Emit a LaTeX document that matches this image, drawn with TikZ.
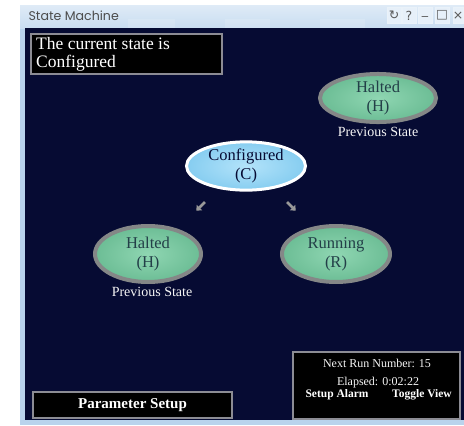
\documentclass[tikz,border=0pt]{standalone}
\usepackage{fontspec}
\setmainfont{Liberation Serif}
\newfontfamily\titlefont{Poppins}
\newfontfamily\symfont{DejaVu Sans}
\usetikzlibrary{shapes.geometric,arrows.meta}
\definecolor{navy}{HTML}{060B33}
\definecolor{framebl}{HTML}{B9D3EC}
\definecolor{titlebl}{HTML}{C9DDF1}
\definecolor{greenfill}{HTML}{6CBD95}
\definecolor{greenlight}{HTML}{8FD6B2}
\definecolor{stategray}{HTML}{848787}
\definecolor{slate}{HTML}{233F48}
\definecolor{bluefill}{HTML}{86CDF0}
\definecolor{bluelight}{HTML}{B3E3FA}
\definecolor{boxborder}{HTML}{8C8C94}
\tikzset{
  greenstate/.style={ellipse, draw=stategray, line width=4pt, inner color=greenlight, outer color=greenfill,
    text=slate, font=\fontsize{16.5}{19}\selectfont, align=center, inner sep=0pt},
  bluestate/.style={ellipse, draw=white, line width=3pt, inner color=bluelight, outer color=bluefill,
    text=navy, font=\fontsize{16.5}{19}\selectfont, align=center, inner sep=0pt},
  caption/.style={text=white!92!gray, font=\fontsize{14}{16}\selectfont},
  panel/.style={draw=boxborder, line width=1.2pt, fill=black, inner sep=0pt},
  winbtn/.style={draw=white!70!framebl, fill=white!55!titlebl, minimum width=14pt, minimum height=16pt, inner sep=0pt,
    text=black!65, font=\symfont\fontsize{12.5}{13}\selectfont},
  hint/.style={draw=gray!80, line width=2.8pt, -{Triangle[length=4.5pt,width=7.5pt]}, shorten >=-1pt}
}
\begin{document}
\begin{tikzpicture}[x=1pt,y=-1pt]
\useasboundingbox (0,0) rectangle (464,426);
\fill[white] (0,0) rectangle (464,426);
% window frame
\fill[framebl] (20,5) rectangle (464,425);
\shade[top color=white!40!titlebl, bottom color=titlebl] (20,5) rectangle (464,28);
\fill[white, opacity=0.15] (128,19) rectangle (175,28);
\fill[white, opacity=0.15] (225,19) rectangle (270,28);
\fill[white, opacity=0.15] (320,19) rectangle (365,28);
\node[anchor=west, text=black!70, font=\titlefont\fontsize{12.6}{13}\selectfont] (title) at (25,16) {State Machine};
\node[winbtn] (b1) at (394,15.5) {↻};
\node[winbtn] (b2) at (409,15.5) {?};
\node[winbtn] (b3) at (425,15.5) {\_};
\node[winbtn] (b4) at (442,15.5) {□};
\node[winbtn, minimum width=10pt] (b5) at (458,15.5) {×};
% dark content area
\fill[navy] (25,28) rectangle (464,420);
% status box
\node[panel, minimum width=191pt, minimum height=40pt] (status) at (126.5,54) {};
\node[anchor=north west, text=white, align=left, inner sep=0pt, font=\fontsize{17.5}{18}\selectfont] (statustxt) at (36,37) {The current state is\\Configured};
% states
\node[greenstate, minimum width=116pt, minimum height=48pt] (H1) at (378,98) {Halted\\(H)};
\node[caption] (p1) at (378,132) {Previous State};
\node[bluestate, minimum width=119pt, minimum height=45pt] (C) at (246,166) {Configured\\(C)};
\node[greenstate, minimum width=106pt, minimum height=56pt] (H2) at (148,254) {Halted\\(H)};
\node[caption] (p2) at (152,292) {Previous State};
\node[greenstate, minimum width=108pt, minimum height=56pt] (R) at (336,254) {Running\\(R)};
% hint arrows
\coordinate (a1s) at (205,202);
\coordinate (a1e) at (197,210);
\coordinate (a2s) at (287,202);
\coordinate (a2e) at (295,210);
\draw[hint] (a1s) -- (a1e);
\draw[hint] (a2s) -- (a2e);
% bottom right panel
\node[panel, minimum width=167pt, minimum height=67pt] (info) at (376.5,385.5) {};
\node[text=white!92!gray, font=\fontsize{12}{14}\selectfont] (nrn) at (377,363) {Next Run Number: 15};
\node[text=white!92!gray, font=\fontsize{12}{14}\selectfont] (el) at (378,383) {Elapsed: 0:02:22};
\node[text=white, font=\bfseries\fontsize{11.5}{13}\selectfont] (alarm) at (337,395) {Setup Alarm};
\node[text=white, font=\bfseries\fontsize{11.5}{13}\selectfont] (toggle) at (422,395) {Toggle View};
% parameter setup
\node[panel, minimum width=199pt, minimum height=26pt, text=white, font=\bfseries\fontsize{15}{17}\selectfont] (param) at (132.5,405) {Parameter Setup};
\end{tikzpicture}
\end{document}
